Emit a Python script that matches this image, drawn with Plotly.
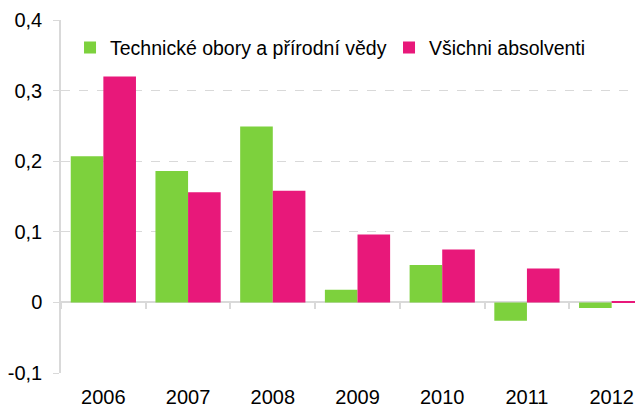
import plotly.graph_objects as go

years = ["2006", "2007", "2008", "2009", "2010", "2011", "2012"]
tech = [0.207, 0.186, 0.249, 0.018, 0.053, -0.026, -0.008]
allgrad = [0.320, 0.156, 0.158, 0.096, 0.075, 0.048, 0.002]
series_names = ["Technické obory a přírodní vědy", "Všichni absolventi"]
ytick_vals = [-0.1, 0, 0.1, 0.2, 0.3, 0.4]
ytick_text = ["-0,1", "0", "0,1", "0,2", "0,3", "0,4"]

GREEN = "#7DD13D"
PINK = "#E8187A"
GRID = "#d9d9d9"
FONT = "Liberation Sans, Arial, sans-serif"
FS = 20
LFS = 19.5

fig = go.Figure()
fig.add_trace(go.Bar(x=years, y=tech, name=series_names[0], legend="legend",
                     marker=dict(color=GREEN, line=dict(width=0))))
fig.add_trace(go.Bar(x=years, y=allgrad, name=series_names[1], legend="legend2",
                     marker=dict(color=PINK, line=dict(width=0))))
# invisible helper trace so the zero-line axis carries the same categories
fig.add_trace(go.Scatter(x=years, y=[None] * len(years), xaxis="x2", showlegend=False, hoverinfo="skip"))

leg_common = dict(orientation="h", y=0.921, yanchor="middle", xanchor="left",
                  font=dict(size=LFS, family=FONT), bgcolor="rgba(0,0,0,0)", borderwidth=0)

fig.update_layout(
    width=635, height=399,
    margin=dict(l=53, r=0, t=12, b=34),
    paper_bgcolor="white", plot_bgcolor="white",
    font=dict(family=FONT, size=FS, color="#000000"),
    barmode="group", bargap=0.23, bargroupgap=0,
    showlegend=True,
    legend=dict(x=0.0155, **leg_common),
    legend2=dict(x=0.5636, **leg_common),
    xaxis=dict(type="category", range=[-0.5, 6.37], showline=False, ticks="",
               showgrid=False, zeroline=False, ticklabelstandoff=10, automargin=False,
               tickfont=dict(size=FS, family=FONT)),
    xaxis2=dict(type="category", overlaying="x", matches="x", anchor="free", position=0.2,
                showline=True, linecolor=GRID, linewidth=1.5, ticks="outside", tickson="boundaries",
                ticklen=6, tickcolor=GRID, tickwidth=1.5, showticklabels=False, showgrid=False,
                zeroline=False, automargin=False, layer="below traces"),
    yaxis=dict(range=[-0.1, 0.4], tickvals=ytick_vals, ticktext=ytick_text,
               showgrid=True, gridcolor=GRID, griddash="dash", gridwidth=1,
               zeroline=False, showline=True, linecolor=GRID, linewidth=1.5,
               ticks="outside", ticklen=6, tickcolor=GRID, ticklabelstandoff=7, automargin=False,
               tickfont=dict(size=FS, family=FONT)),
)

fig.write_html("out.html")
